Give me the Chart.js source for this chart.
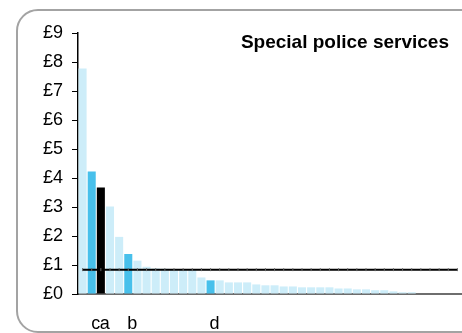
<!DOCTYPE html>
<html>
<head>
<meta charset="utf-8">
<script src="https://cdn.jsdelivr.net/npm/chart.js@4"></script>
<style>
  html, body { margin: 0; padding: 0; background: #fff; }
  #wrap { position: relative; width: 462px; height: 333px; overflow: hidden; }
  #frame {
    position: absolute; left: 16px; top: 9px; width: 470px; height: 320px;
    border: 2px solid #a3a3a3; border-radius: 22px;
  }
  #chart { position: absolute; left: 0; top: 0; }
  #title {
    position: absolute; right: 13px; top: 31px; line-height: 19px;
    font: bold 19px "Liberation Sans", Arial, sans-serif; color: #000;
  }
</style>
</head>
<body>
<div id="wrap">
  <div id="frame"></div>
  <canvas id="chart" width="462" height="333"></canvas>
  <div id="title">Special police services</div>
</div>
<script>
// one bar per force, sorted by cost; only a few are named
const categories = [
  '', 'c', 'a', '', '', 'b', '', '', '', '', '', '', '', '', 'd', '', '', '', '', '', '',
  '', '', '', '', '', '', '', '', '', '', '', '', '', '', '', '', '', '', '', '', ''
]

const costPerHead = [
  7.78, 4.22, 3.67, 3.02, 1.97, 1.38, 1.15, 0.94, 0.88, 0.87, 0.86, 0.86, 0.85, 0.57,
  0.47, 0.47, 0.40, 0.40, 0.40, 0.33, 0.30, 0.30, 0.26, 0.26, 0.23, 0.23, 0.23, 0.23,
  0.19, 0.19, 0.16, 0.16, 0.13, 0.13, 0.09, 0.06, 0.06, null, null, null, null, null
]

// national average, drawn across every force
const averageLine = [
  0.84, 0.84, 0.84, 0.84, 0.84, 0.84, 0.84, 0.84, 0.84, 0.84, 0.84, 0.84, 0.84, 0.84,
  0.84, 0.84, 0.84, 0.84, 0.84, 0.84, 0.84, 0.84, 0.84, 0.84, 0.84, 0.84, 0.84, 0.84,
  0.84, 0.84, 0.84, 0.84, 0.84, 0.84, 0.84, 0.84, 0.84, 0.84, 0.84, 0.84, 0.84, 0.84
]

const yTicks = [0, 1, 2, 3, 4, 5, 6, 7, 8, 9]

const LIGHT = 'rgb(205, 237, 249)'
const MID = 'rgb(72, 192, 235)'
const barColours = categories.map(c => {
  if (c === 'a') return '#000000'
  if (c === 'b' || c === 'c' || c === 'd') return MID
  return LIGHT
})

const FONT = '"Liberation Sans", Arial, sans-serif'

new Chart(document.getElementById('chart'), {
  data: {
    labels: categories,
    datasets: [
      {
        type: 'line',
        data: averageLine,
        borderColor: '#000',
        borderWidth: 2,
        pointStyle: 'line',
        pointRotation: 90,
        pointRadius: 1.5,
        pointHoverRadius: 1.5,
        pointBorderColor: '#666',
        pointBorderWidth: 1,
        order: 0
      },
      {
        type: 'bar',
        data: costPerHead,
        backgroundColor: barColours,
        borderWidth: 0,
        barPercentage: 0.88,
        categoryPercentage: 1,
        order: 1
      }
    ]
  },
  options: {
    responsive: false,
    animation: false,
    devicePixelRatio: 1,
    layout: { autoPadding: false, padding: { top: 33, left: 0, right: 0, bottom: 0 } },
    plugins: {
      legend: { display: false },
      tooltip: { enabled: false },
      title: { display: false }
    },
    scales: {
      x: {
        type: 'category',
        offset: true,
        grid: { display: false },
        border: { display: true, color: '#6e6e6e', width: 2 },
        ticks: {
          autoSkip: false,
          maxRotation: 0,
          labelOffset: 4,
          padding: 11,
          color: '#000',
          font: { family: FONT, size: 18 }
        },
        afterFit: scale => {
          scale.height = 39
          scale.paddingLeft = 0
          scale.paddingRight = 0
        }
      },
      y: {
        min: 0,
        max: 9,
        afterBuildTicks: scale => { scale.ticks = yTicks.map(v => ({ value: v })) },
        grid: {
          display: true,
          drawOnChartArea: false,
          drawTicks: true,
          tickLength: 6,
          tickColor: '#000'
        },
        border: { display: true, color: '#000', width: 1.5 },
        ticks: {
          padding: 9,
          color: '#000',
          font: { family: FONT, size: 18 },
          callback: v => '£' + v
        },
        afterFit: scale => { scale.width = 78 }
      }
    }
  }
})
</script>
</body>
</html>
